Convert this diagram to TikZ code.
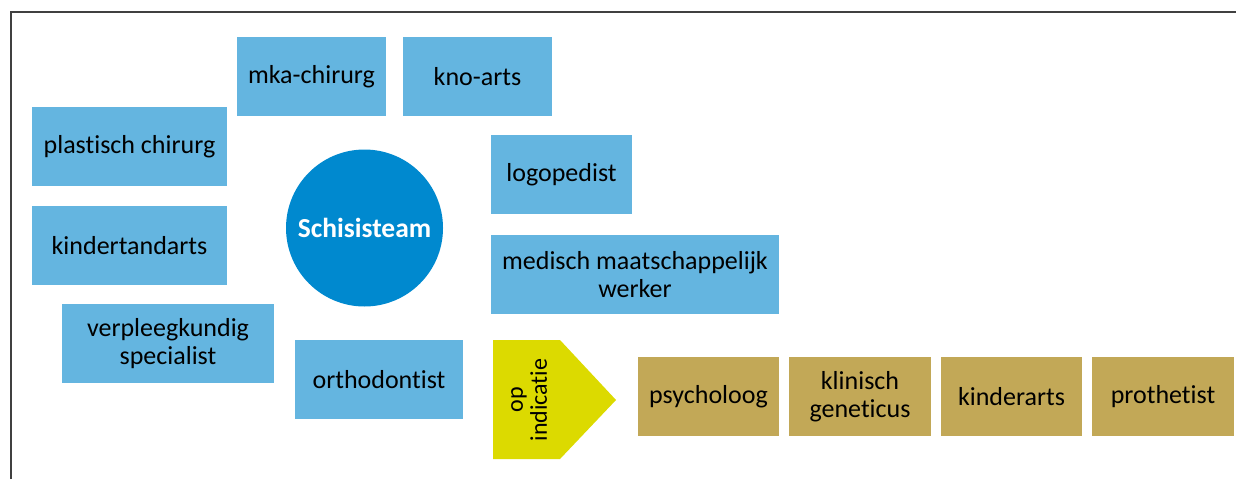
\documentclass[tikz,border=0pt]{standalone}
\usepackage{fontspec}
\setmainfont[Ligatures=NoCommon]{Carlito}
\begin{document}
\begin{tikzpicture}[x=1pt,y=-1pt,
  lb/.style={fill=lightblue, draw=none, inner sep=0pt, align=center, font=\fontsize{26}{28}\selectfont},
  gd/.style={fill=gold, draw=none, inner sep=0pt, align=center, font=\fontsize{26}{28}\selectfont}]
\definecolor{lightblue}{HTML}{64B5E0}
\definecolor{darkblue}{HTML}{0089CF}
\definecolor{yell}{HTML}{DCDA00}
\definecolor{gold}{HTML}{C2A857}
\useasboundingbox (0,0) rectangle (1236,479);
\draw[line width=2pt, black!75] (10.5,479) -- (10.5,12) -- (1236,12);
% blue boxes
\node[lb, minimum width=149, minimum height=79] (mka) at (311.5,76.5) {mka-chirurg};
\node[lb, minimum width=149, minimum height=79] (kno) at (477.5,76.5) {kno-arts};
\node[lb, minimum width=195, minimum height=79] (plast) at (129.5,146.5) {plastisch chirurg};
\node[lb, minimum width=195, minimum height=79] (kind) at (129.5,245.5) {kindertandarts};
\node[lb, minimum width=212, minimum height=79] (verp) at (168,343.5) {verpleegkundig\\specialist};
\node[lb, minimum width=168, minimum height=79] (ortho) at (379,379.5) {orthodontist};
\node[lb, minimum width=141, minimum height=79] (logo) at (561.5,174.5) {logopedist};
\node[lb, minimum width=288, minimum height=79] (med) at (635,274.5) {medisch maatschappelijk\\werker};
% circle
\node[circle, fill=darkblue, minimum size=157, inner sep=0pt, text=white, font=\fontsize{27.5}{30}\selectfont\bfseries] (team) at (364.5,228) {Schisisteam};
% arrow
\fill[yell] (493,340) -- (560,340) -- (616,400) -- (560,459) -- (493,459) -- cycle;
\node[rotate=90, align=center, inner sep=0pt, font=\fontsize{24}{24}\selectfont] (opind) at (529,400) {op\\indicatie};
% gold boxes
\node[gd, minimum width=141, minimum height=79] (psy) at (708.5,396.5) {psycholoog};
\node[gd, minimum width=142, minimum height=79] (klin) at (860,396.5) {klinisch\\geneticus};
\node[gd, minimum width=141, minimum height=79] (kinda) at (1011.5,396.5) {kinderarts};
\node[gd, minimum width=142, minimum height=79] (proth) at (1163,396.5) {prothetist};
\end{tikzpicture}
\end{document}
